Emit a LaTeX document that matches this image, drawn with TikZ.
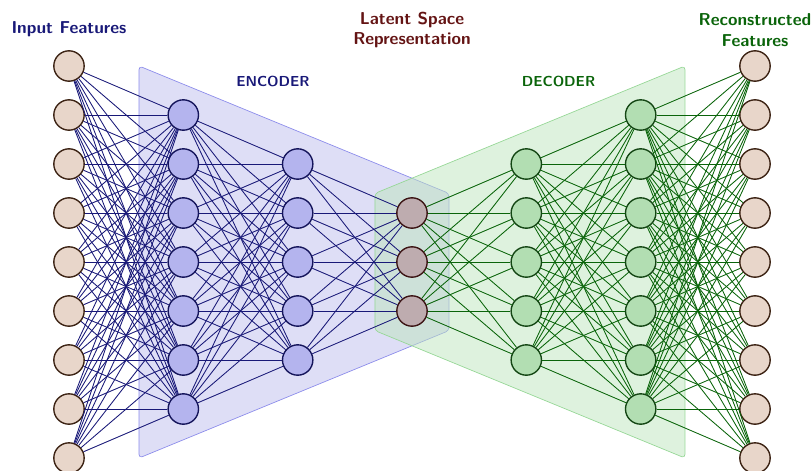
\documentclass[tikz,border=0pt]{standalone}
\usetikzlibrary{backgrounds}
\definecolor{iofill}{RGB}{232,214,202}
\definecolor{iodraw}{RGB}{60,35,20}
\definecolor{encfill}{RGB}{180,180,238}
\definecolor{encdraw}{RGB}{20,20,90}
\definecolor{encline}{RGB}{25,25,120}
\definecolor{encbox}{RGB}{200,200,240}
\definecolor{encboxline}{RGB}{140,140,235}
\definecolor{latfill}{RGB}{190,172,175}
\definecolor{latdraw}{RGB}{60,20,20}
\definecolor{latlabel}{RGB}{100,20,20}
\definecolor{decfill}{RGB}{178,222,178}
\definecolor{decdraw}{RGB}{20,70,20}
\definecolor{decline}{RGB}{10,100,10}
\definecolor{decbox}{RGB}{190,230,190}
\definecolor{decboxline}{RGB}{150,215,150}
\begin{document}
\begin{tikzpicture}
  [every node/.style={circle,inner sep=0pt},
   io/.style={fill=iofill,draw=iodraw,thick,minimum size=0.62cm},
   enc/.style={fill=encfill,draw=encdraw,thick,minimum size=0.62cm},
   lat/.style={fill=latfill,draw=latdraw,thick,minimum size=0.62cm},
   dec/.style={fill=decfill,draw=decdraw,thick,minimum size=0.62cm},
   title/.style={font=\sffamily\bfseries,align=center},
   blocktitle/.style={font=\fontsize{8.4}{10}\selectfont\sffamily\bfseries},
   encwire/.style={draw=encline,line width=0.5pt},
   decwire/.style={draw=decline,line width=0.5pt}]
  \useasboundingbox (-8.408,-4.245) rectangle (8.143,5.347);

  % encoder / decoder blocks
  \draw[rounded corners=2pt,fill=encbox,fill opacity=0.6,draw=encboxline]
    (-5.57,4) -- (0.755,1.4) -- (0.755,-1.4) -- (-5.57,-4) -- cycle;
  \draw[rounded corners=2pt,fill=decbox,fill opacity=0.5,draw=decboxline]
    (5.57,4) -- (-0.755,1.4) -- (-0.755,-1.4) -- (5.57,-4) -- cycle;

  % layers
  \foreach \i in {1,...,9} \node (in\i)[io] at (-7,5-\i) {};
  \foreach \i in {1,...,7} \node (ea\i)[enc] at (-4.667,4-\i) {};
  \foreach \i in {1,...,5} \node (eb\i)[enc] at (-2.333,3-\i) {};
  \foreach \i in {1,2,3} \node (l\i)[lat] at (0,2-\i) {};
  \foreach \i in {1,...,5} \node (da\i)[dec] at (2.333,3-\i) {};
  \foreach \i in {1,...,7} \node (db\i)[dec] at (4.667,4-\i) {};
  \foreach \i in {1,...,9} \node (out\i)[io] at (7,5-\i) {};

  % connections
  \foreach \a in {1,...,9}
    \foreach \b in {1,...,7}
      \draw[encwire] (in\a) -- (ea\b);
  \foreach \a in {1,...,7}
    \foreach \b in {1,...,5}
      \draw[encwire] (ea\a) -- (eb\b);
  \foreach \a in {1,...,5}
    \foreach \b in {1,2,3}
      \draw[encwire] (eb\a) -- (l\b);
  \foreach \a in {1,2,3}
    \foreach \b in {1,...,5}
      \draw[decwire] (l\a) -- (da\b);
  \foreach \a in {1,...,5}
    \foreach \b in {1,...,7}
      \draw[decwire] (da\a) -- (db\b);
  \foreach \a in {1,...,7}
    \foreach \b in {1,...,9}
      \draw[decwire] (db\a) -- (out\b);

  % labels
  \node (inlabel)[title,text=encline] at (-7,4.755) {Input Features};
  \node (enclabel)[blocktitle,text=encline] at (-2.837,3.694) {ENCODER};
  \node (latlabel)[title,text=latlabel] at (0,4.735) {Latent Space\\Representation};
  \node (declabel)[blocktitle,text=decline] at (2.99,3.694) {DECODER};
  \node (outlabel)[title,text=decline] at (7,4.735) {Reconstructed\\Features};
\end{tikzpicture}
\end{document}
